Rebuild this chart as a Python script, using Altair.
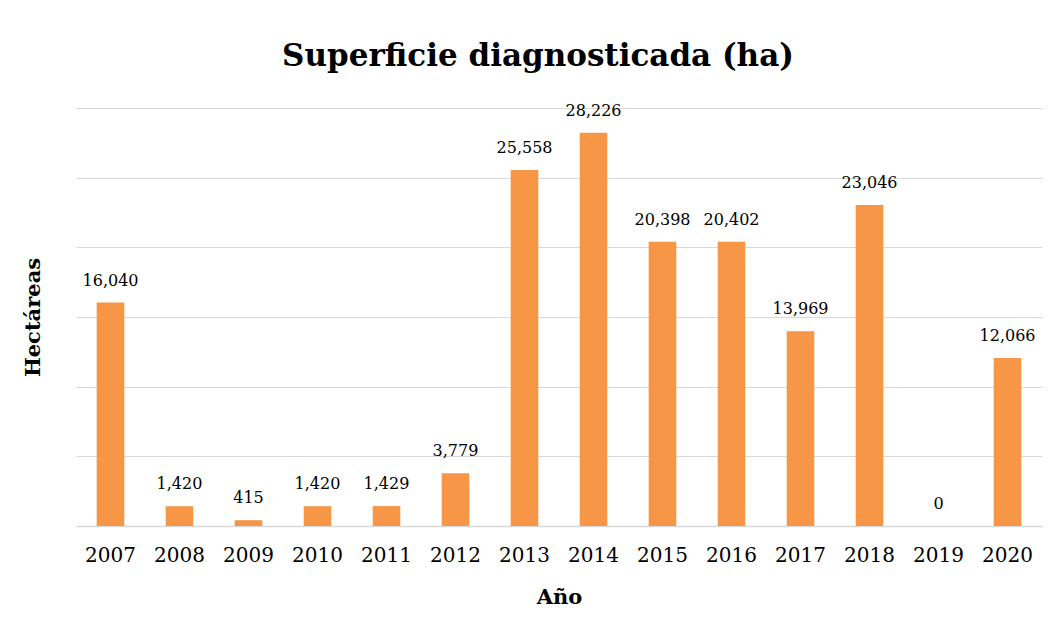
import altair as alt
import pandas as pd

years = ["2007", "2008", "2009", "2010", "2011", "2012", "2013",
         "2014", "2015", "2016", "2017", "2018", "2019", "2020"]
hectares = [16040, 1420, 415, 1420, 1429, 3779, 25558,
            28226, 20398, 20402, 13969, 23046, 0, 12066]

df = pd.DataFrame({"Año": years, "Hectáreas": hectares})

FONT = "DejaVu Serif"

x = alt.X("Año:N", sort=years,
          scale=alt.Scale(paddingInner=0.6, paddingOuter=0.3),
          axis=alt.Axis(title="Año", labelAngle=0, labelFontSize=20,
                        labelFont=FONT, labelColor="#000000", labelPadding=19,
                        ticks=False, domain=True, domainColor="#d9d9d9",
                        domainWidth=1.5, titleFont=FONT, titleFontSize=21,
                        titleFontWeight="bold", titleColor="#000000",
                        titlePadding=21))
y = alt.Y("Hectáreas:Q",
          scale=alt.Scale(domain=[0, 30000], nice=False),
          axis=alt.Axis(title="Hectáreas", labels=False, ticks=False,
                        domain=False, grid=True, gridColor="#d9d9d9",
                        gridWidth=1.2, values=[0, 5000, 10000, 15000, 20000, 25000, 30000],
                        titleFont=FONT, titleFontSize=21, titleFontWeight="bold",
                        titleColor="#000000", titlePadding=33))

bars = alt.Chart(df).mark_bar(color="#F79646").encode(x=x, y=y)
labels = alt.Chart(df).mark_text(dy=-14, fontSize=16, font=FONT,
                                 color="#000000", baseline="bottom").encode(
    x=alt.X("Año:N", sort=years),
    y=alt.Y("Hectáreas:Q"),
    text=alt.Text("Hectáreas:Q", format=",")
)

chart = (bars + labels).properties(
    width=966, height=418,
    background="white",
    title=alt.TitleParams("Superficie diagnosticada (ha)", font=FONT,
                          fontSize=31, fontWeight="bold", color="#000000",
                          anchor="middle", dx=-21, offset=30),
    autosize=alt.AutoSizeParams(type="none"),
    padding={"left": 68, "top": 100, "right": 10, "bottom": 100},
).configure_view(strokeWidth=0, stroke="transparent")

chart.save("out.html", embed_options={"renderer": "svg", "actions": False})
